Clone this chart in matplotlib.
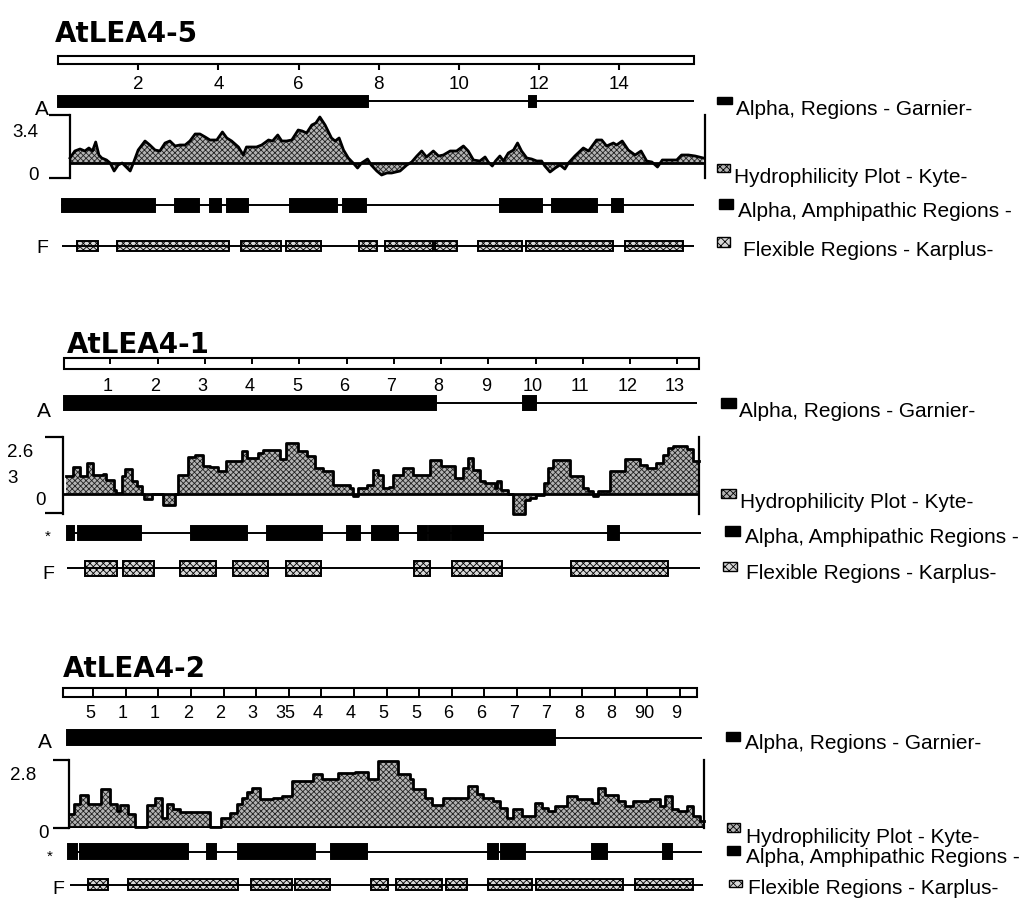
import matplotlib.pyplot as plt
from matplotlib.patches import Rectangle

W, H = 1032, 900
plt.rcParams['font.family'] = ['Liberation Sans', 'DejaVu Sans']
plt.rcParams['hatch.linewidth'] = 0.6
plt.rcParams['hatch.color'] = '#222222'

LEGEND = ["Alpha, Regions - Garnier-", "Hydrophilicity Plot - Kyte-",
          "Alpha, Amphipathic Regions -", "Flexible Regions - Karplus-"]

# ---------------- AtLEA4-5 (ruler units) ----------------
lea45_len = 15.86
lea45_ticks = [2, 4, 6, 8, 10, 12, 14]
lea45_labels = ["2", "4", "6", "8", "10", "12", "14"]
lea45_garnier = [(0.0, 7.73), (11.75, 11.92)]
lea45_amph = [(0.10, 2.42), (2.92, 3.52), (3.79, 4.06), (4.21, 4.74), (5.79, 6.96),
              (7.11, 7.68), (11.02, 12.07), (12.32, 13.27), (13.27, 13.44), (13.82, 14.09)]
lea45_flex = [(0.47, 1.00), (1.47, 4.26), (4.56, 5.56), (5.69, 6.56), (7.51, 7.96),
              (8.15, 9.35), (9.40, 9.95), (10.47, 11.57), (11.67, 13.84), (14.14, 15.59)]
lea45_kd_x = [0.30, 0.42, 0.55, 0.67, 0.77, 0.86, 0.94, 1.02, 1.09, 1.21,
              1.30, 1.40, 1.50, 1.60, 1.80, 1.88, 2.00, 2.17, 2.29, 2.42,
              2.54, 2.67, 2.79, 2.92, 3.04, 3.17, 3.29, 3.42, 3.54, 3.67,
              3.79, 3.96, 4.10, 4.21, 4.33, 4.50, 4.62, 4.70, 4.95, 5.08,
              5.25, 5.35, 5.48, 5.58, 5.70, 5.83, 5.99, 6.09, 6.20, 6.33,
              6.43, 6.53, 6.66, 6.82, 6.91, 7.01, 7.12, 7.24, 7.36, 7.47,
              7.57, 7.72, 7.81, 7.95, 8.07, 8.20, 8.32, 8.53, 8.70, 8.82,
              8.95, 9.07, 9.19, 9.36, 9.49, 9.61, 9.78, 9.94, 10.11, 10.23,
              10.36, 10.52, 10.65, 10.73, 10.83, 10.91, 11.02, 11.11, 11.23, 11.36,
              11.46, 11.56, 11.69, 11.81, 11.94, 12.06, 12.14, 12.27, 12.40, 12.52,
              12.64, 12.73, 12.89, 13.10, 13.23, 13.43, 13.56, 13.68, 13.85, 13.93,
              14.07, 14.22, 14.39, 14.54, 14.68, 14.81, 14.95, 15.07, 15.26, 15.43,
              15.55, 15.72, 15.89, 16.09]
lea45_kd = [5, 12, 14, 12, 15, 12, 21, 8, 5, 3,
            0, -8, -2, 0, -8, 0, 13, 22, 18, 13,
            12, 20, 22, 17, 18, 18, 22, 29, 29, 26,
            23, 23, 31, 25, 22, 16, 8, 16, 16, 18,
            23, 22, 28, 22, 22, 23, 33, 32, 30, 38,
            40, 46, 38, 25, 22, 25, 13, 5, 0, -5,
            0, 4, -2, -8, -12, -10, -10, -8, -2, 1,
            7, 12, 6, 12, 7, 8, 12, 12, 17, 12,
            3, 2, 6, 1, -3, 2, 7, 2, 10, 13,
            20, 12, 5, 4, 2, 2, -3, -9, -5, -2,
            -6, 0, 7, 15, 12, 23, 23, 17, 20, 18,
            22, 13, 8, 12, 2, 1, -4, 3, 3, 3,
            8, 8, 7, 5]

# ---------------- AtLEA4-1 ----------------
lea41_len = 13.46
lea41_ticks = list(range(1, 14))
lea41_labels = [str(i) for i in range(1, 14)]
lea41_garnier = [(0.02, 7.89), (9.74, 10.01)]
lea41_amph = [(0.08, 0.23), (0.32, 1.65), (2.71, 3.89), (4.32, 5.48), (6.01, 6.29),
              (6.54, 7.09), (7.51, 7.70), (7.75, 8.19), (8.23, 8.89), (11.53, 11.77)]
lea41_flex = [(0.47, 1.14), (1.27, 1.93), (2.48, 3.24), (3.60, 4.34), (4.72, 5.46),
              (7.43, 7.77), (8.23, 9.29), (10.75, 12.80)]
lea41_kd_x = [0.06, 0.22, 0.36, 0.50, 0.64, 0.85, 0.92, 1.07, 1.12, 1.24,
              1.31, 1.45, 1.56, 1.67, 1.71, 1.88, 2.11, 2.37, 2.44, 2.65,
              2.79, 2.97, 3.11, 3.29, 3.46, 3.78, 3.89, 4.13, 4.24, 4.59,
              4.73, 4.98, 5.16, 5.33, 5.51, 5.72, 6.07, 6.14, 6.25, 6.43,
              6.57, 6.67, 6.78, 6.89, 6.99, 7.20, 7.41, 7.77, 8.01, 8.30,
              8.47, 8.58, 8.68, 8.83, 8.93, 9.14, 9.19, 9.28, 9.42, 9.53,
              9.78, 9.88, 10.02, 10.17, 10.27, 10.38, 10.73, 11.01, 11.12, 11.22,
              11.33, 11.58, 11.89, 12.21, 12.35, 12.56, 12.70, 12.81, 12.92, 13.20,
              13.34, 13.46]
lea41_kd = [18, 27, 18, 31, 19, 20, 14, 4, 1, 18,
            25, 13, 8, 0, -5, 0, -11, 0, 19, 37,
            39, 28, 27, 23, 33, 43, 36, 41, 44, 35,
            51, 43, 38, 26, 23, 9, 6, -2, 6, 9,
            24, 19, 6, 7, 19, 26, 19, 34, 28, 16,
            26, 36, 24, 13, 11, 6, 13, 4, 0, -20,
            -6, -4, -1, 11, 26, 34, 18, 6, 3, -2,
            3, 23, 35, 29, 26, 31, 39, 46, 48, 45,
            33, 33]

# ---------------- AtLEA4-2 ----------------
lea42_len = 19.52
lea42_ticks = list(range(1, 20))
lea42_labels = ["5", "1", "1", "2", "2", "3", "35", "4", "4", "5",
                "5", "6", "6", "7", "7", "8", "8", "90", "9"]
lea42_garnier = [(0.20, 15.17)]
lea42_amph = [(0.23, 0.51), (0.60, 3.91), (4.49, 4.77), (5.44, 7.81), (8.30, 9.40),
              (13.11, 13.42), (13.51, 14.25), (16.30, 16.76), (18.48, 18.76)]
lea42_flex = [(0.84, 1.46), (2.07, 5.44), (5.84, 7.10), (7.19, 8.27), (9.52, 10.05),
              (10.29, 11.70), (11.83, 12.47), (13.11, 14.46), (14.59, 17.26), (17.62, 19.40)]
lea42_kd_x = [0.29, 0.42, 0.60, 0.85, 1.24, 1.52, 1.72, 1.83, 2.08, 2.29,
              2.64, 2.90, 3.10, 3.26, 3.46, 3.67, 4.59, 4.92, 5.20, 5.40,
              5.56, 5.71, 5.86, 6.12, 6.53, 6.78, 7.09, 7.76, 8.01, 8.52,
              9.03, 9.44, 9.75, 10.36, 10.72, 10.82, 11.18, 11.39, 11.74, 12.51,
              12.77, 12.97, 13.28, 13.48, 13.69, 13.89, 14.15, 14.56, 14.76, 14.96,
              15.17, 15.53, 15.83, 16.29, 16.50, 16.70, 17.11, 17.32, 17.57, 18.08,
              18.39, 18.54, 18.75, 18.95, 19.21, 19.41, 19.62, 19.74]
lea42_kd = [13, 23, 32, 23, 38, 23, 16, 22, 13, 0,
            22, 29, 9, 23, 18, 15, 0, 9, 14, 23,
            29, 35, 39, 28, 29, 31, 46, 53, 48, 54,
            55, 48, 66, 53, 48, 38, 29, 22, 29, 41,
            33, 29, 26, 19, 9, 18, 11, 24, 19, 16,
            21, 31, 28, 24, 39, 32, 26, 21, 26, 28,
            21, 31, 18, 16, 21, 11, 6, 6]

BLACK = dict(facecolor='black', edgecolor='black')
FLEX = dict(facecolor='#d8d8d8', edgecolor='black', hatch='xxxxx')
KD_FILL = dict(facecolor='#b4b4b4', edgecolor='#222222', hatch='xxxxxx', linewidth=0)

fig = plt.figure(figsize=(W / 100, H / 100), dpi=100)


def fx(x):
    return x / W


def fy(y):
    return 1 - y / H


def ftext(x, y, s, **kw):
    fig.text(fx(x), fy(y), s, **kw)


def px_axes(box, x0, scale, ylim=None):
    l, t, r, b = box
    ax = fig.add_axes([l / W, 1 - b / H, (r - l) / W, (b - t) / H])
    ax.set_xlim((l - x0) / scale, (r - x0) / scale)
    ax.set_ylim(ylim if ylim is not None else (b, t))
    ax.patch.set_visible(False)
    for sp in ax.spines.values():
        sp.set_visible(False)
    ax.set_xticks([])
    ax.set_yticks([])
    return ax


def track(ax, y, span, segs, h, style):
    ax.plot(span, [y, y], color='black', lw=1.4, solid_capstyle='butt')
    for a, b in segs:
        ax.add_patch(Rectangle((a, y - h / 2), b - a, h, lw=1.4, **style))


def hydro(box, x0, scale, ylim, xs, ys, stepped, ticks, tick_len):
    ax = px_axes(box, x0, scale, ylim)
    for side in ('left', 'right'):
        ax.spines[side].set_visible(True)
        ax.spines[side].set_linewidth(1.6)
    ax.set_yticks(ticks)
    ax.tick_params(axis='y', direction='out', length=tick_len, width=1.6,
                   labelleft=False)
    if stepped:
        ax.fill_between(xs, 0, ys, step='post', **KD_FILL)
        ax.step(xs, ys, where='post', color='black', lw=2.0, clip_on=False)
    else:
        ax.fill_between(xs, 0, ys, interpolate=True, **KD_FILL)
        ax.plot(xs, ys, color='black', lw=2.0, clip_on=False)
    ax.axhline(0, color='black', lw=2)
    return ax


def legend(rows):
    icons = [BLACK, dict(facecolor='#b4b4b4', edgecolor='black', hatch='xxxxx'),
             BLACK, dict(facecolor='#d8d8d8', edgecolor='black', hatch='xxxx')]
    for label, style, (tx, ty, x0, x1, y0, y1) in zip(LEGEND, icons, rows):
        fig.add_artist(Rectangle((fx(x0), fy(y1)), (x1 - x0) / W, (y1 - y0) / H,
                                 transform=fig.transFigure, lw=1, **style))
        ftext(tx, ty, label, fontsize=15)


def title(x, y, s):
    ftext(x, y, s, fontsize=20, fontweight='bold', family='DejaVu Sans')


# ---------------- AtLEA4-5 ----------------
x0, sc = 58, 40.1
title(55, 42, "AtLEA4-5")
ax = px_axes((30, 50, 712, 262), x0, sc)
ax.add_patch(Rectangle((0, 56), lea45_len, 8, facecolor='white', edgecolor='black', lw=1.5))
ax.vlines(lea45_ticks, 64, 70, color='black', lw=1.5)
for t, s in zip(lea45_ticks, lea45_labels):
    ax.text(t, 89, s, fontsize=13.5, ha='center', va='baseline')
track(ax, 101, (0, lea45_len), lea45_garnier, 11, BLACK)
track(ax, 205, (0.07, lea45_len), lea45_amph, 13, BLACK)
track(ax, 246, (0.10, lea45_len), lea45_flex, 10, FLEX)
hydro((70, 115, 705, 178), x0, sc, (-15, 48), lea45_kd_x, lea45_kd, False, [-15, 48], 15)
ftext(35, 115, "A", fontsize=15)
ftext(12, 137, "3.4", fontsize=13.5)
ftext(28, 180, "0", fontsize=13.5)
ftext(36, 253, "F", fontsize=14)
legend([(736, 115, 717, 732, 97, 104), (734, 183, 717, 730, 164, 172),
        (738, 217, 719, 733, 199, 209), (743, 256, 717, 730, 237, 247)])

# ---------------- AtLEA4-1 ----------------
x0, sc = 63, 47.25
title(67, 353, "AtLEA4-1")
ax = px_axes((30, 352, 712, 585), x0, sc)
ax.add_patch(Rectangle((0.02, 358), lea41_len - 0.02, 11, facecolor='white', edgecolor='black', lw=1.5))
ax.vlines(lea41_ticks, 358, 364, color='black', lw=1.4)
for t, s in zip(lea41_ticks, lea41_labels):
    ax.text(t - 0.05, 391, s, fontsize=13, ha='center', va='baseline')
track(ax, 403, (0.02, 13.42), lea41_garnier, 14, BLACK)
track(ax, 533, (0.08, 13.50), lea41_amph, 14, BLACK)
track(ax, 568, (0.08, 13.48), lea41_flex, 15, FLEX)
hydro((63, 437, 699, 514), x0, sc, (-20, 57), lea41_kd_x, lea41_kd, True, [-19, 57], 13)
ftext(37, 417, "A", fontsize=15)
ftext(7, 457, "2.6", fontsize=13.5)
ftext(7, 483, "3", fontsize=13.5)
ftext(35, 505, "0", fontsize=13.5)
ftext(45, 541, "*", fontsize=11)
ftext(42, 579, "F", fontsize=14)
legend([(739, 417, 721, 736, 398, 408), (740, 508, 721, 736, 489, 498),
        (745, 543, 725, 740, 526, 536), (746, 579, 723, 737, 562, 571)])

# ---------------- AtLEA4-2 ----------------
x0, sc = 60.5, 32.6
title(63, 677, "AtLEA4-2")
ax = px_axes((30, 682, 712, 900), x0, sc)
ax.add_patch(Rectangle((0.08, 688), lea42_len - 0.08, 9, facecolor='white', edgecolor='black', lw=1.5))
ax.vlines(lea42_ticks, 688, 697, color='black', lw=1.4)
for t, s in zip(lea42_ticks, lea42_labels):
    ax.text(t - 0.1, 718, s, fontsize=13, ha='center', va='baseline')
track(ax, 738, (0.20, 19.68), lea42_garnier, 15, BLACK)
track(ax, 852, (0.23, 19.68), lea42_amph, 15, BLACK)
track(ax, 885, (0.29, 19.71), lea42_flex, 11, FLEX)
hydro((69, 760, 704, 828), x0, sc, (-1, 67), lea42_kd_x, lea42_kd, True, [-1, 67], 11.5)
ftext(38, 748, "A", fontsize=15)
ftext(10, 780, "2.8", fontsize=13.5)
ftext(38, 838, "0", fontsize=13.5)
ftext(47, 861, "*", fontsize=11)
ftext(52, 894, "F", fontsize=14)
legend([(745, 749, 726, 740, 732, 741), (746, 843, 727, 740, 823, 832),
        (746, 863, 727, 740, 846, 855), (748, 894, 729, 742, 880, 887)])

fig.savefig("out.png", dpi=100)
